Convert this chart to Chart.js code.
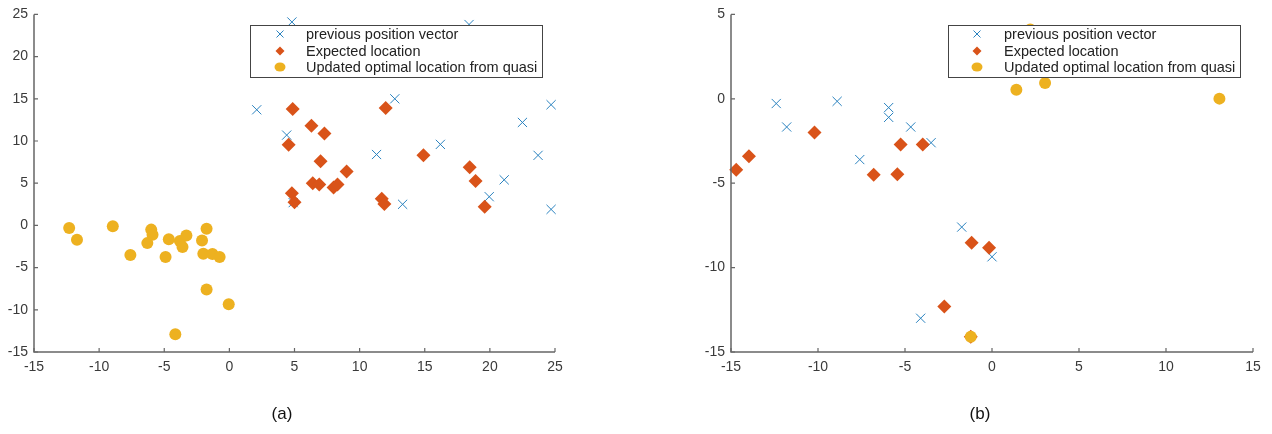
<!DOCTYPE html>
<html>
<head>
<meta charset="utf-8">
<script src="https://cdn.jsdelivr.net/npm/chart.js@4/dist/chart.umd.min.js"></script>
<style>
body{margin:0;background:#fff;width:1272px;height:434px;position:relative;overflow:hidden;font-family:"Liberation Sans",Arial,sans-serif}
canvas{position:absolute;top:0}
#chartA{left:0}
#chartB{left:640px}
.cap{position:absolute;top:404px;width:60px;text-align:center;font-size:17px;line-height:20px;color:#111}
</style>
</head>
<body>
<canvas id="chartA" width="600" height="434"></canvas>
<canvas id="chartB" width="632" height="434"></canvas>
<div class="cap" style="left:252px">(a)</div>
<div class="cap" style="left:950px">(b)</div>
<script>
// series names
var seriesNames = ['previous position vector', 'Expected location', 'Updated optimal location from quasi'];

// (a)
var prevAx = [2.1, 4.8, 4.4, 4.9, 8.8, 12.7, 11.3, 16.2, 13.3, 18.4, 22.5, 24.7, 23.7, 21.1, 19.95, 24.7];
var prevAy = [13.7, 24.1, 10.7, 2.7, 18.0, 15.0, 8.4, 9.6, 2.5, 23.8, 12.2, 14.3, 8.3, 5.4, 3.4, 1.9];
var expAx = [4.86, 6.3, 7.3, 4.55, 7.0, 9.0, 6.4, 6.9, 8.0, 8.3, 4.8, 5.0, 12.0, 14.9, 11.7, 11.9, 18.45, 18.9, 19.6];
var expAy = [13.8, 11.8, 10.9, 9.55, 7.6, 6.4, 5.0, 4.85, 4.5, 4.85, 3.8, 2.75, 13.9, 8.3, 3.15, 2.55, 6.9, 5.25, 2.2];
var updAx = [-12.3, -11.7, -8.95, -7.6, -6.0, -5.9, -6.3, -4.9, -4.65, -3.8, -3.6, -3.3, -4.15, -1.75, -2.1, -2.0, -1.3, -0.75, -1.75, -0.05];
var updAy = [-0.3, -1.7, -0.1, -3.5, -0.5, -1.1, -2.1, -3.75, -1.65, -1.85, -2.55, -1.2, -12.9, -0.4, -1.8, -3.35, -3.4, -3.75, -7.6, -9.35];

// (b)
var prevBx = [-12.4, -11.8, -8.9, -7.6, -5.94, -5.94, -4.67, -3.5, -1.74, -4.1, 0];
var prevBy = [-0.28, -1.67, -0.15, -3.6, -0.52, -1.1, -1.67, -2.6, -7.6, -13.0, -9.36];
var expBx = [-14.7, -13.97, -10.2, -6.8, -5.44, -5.25, -3.98, -1.17, -2.74, -0.17, -1.22];
var expBy = [-4.2, -3.4, -2.0, -4.5, -4.47, -2.7, -2.7, -8.53, -12.3, -8.83, -14.1];
var updBx = [-1.22, 2.2, 1.4, 3.05, 13.07];
var updBy = [-14.1, 4.1, 0.54, 0.94, 0.01];

var xTicksA = [-15, 25];
var yTicksA = [-15, 25];
var xTicksB = [-15, 15];
var yTicksB = [-15, 5];

var blue = '#2a82bf', orange = '#d95319', yellow = '#edb120';
var fontFam = '"Liberation Sans", Arial, sans-serif';

function pts(xs, ys) {
    return xs.map(function (x, i) { return {x: x, y: ys[i]}; });
}

function marker(ctx, kind, x, y, r) {
    ctx.beginPath();
    if (kind == 0) {
        ctx.strokeStyle = blue; ctx.lineWidth = 1;
        ctx.moveTo(x - r, y - r); ctx.lineTo(x + r, y + r);
        ctx.moveTo(x - r, y + r); ctx.lineTo(x + r, y - r);
        ctx.stroke();
    } else if (kind == 1) {
        ctx.fillStyle = orange;
        ctx.moveTo(x, y - r); ctx.lineTo(x + r, y); ctx.lineTo(x, y + r); ctx.lineTo(x - r, y);
        ctx.closePath(); ctx.fill();
    } else {
        ctx.fillStyle = yellow;
        ctx.ellipse(x, y, r + 1, r, 0, 0, Math.PI * 2);
        ctx.fill();
    }
}

// matlab style axes: left + bottom line, ticks pointing inward, boxed legend
var matlabLook = {
    id: 'matlabLook',
    afterDatasetsDraw: function (chart, args, opts) {
        var ctx = chart.ctx, a = chart.chartArea;
        var xs = chart.scales.x, ys = chart.scales.y;
        ctx.save();
        ctx.strokeStyle = '#666';
        ctx.lineWidth = 1.5;
        ctx.beginPath();
        ctx.moveTo(a.left, a.top);
        ctx.lineTo(a.left, a.bottom);
        ctx.lineTo(a.right, a.bottom);
        ctx.stroke();
        ctx.lineWidth = 1.2;
        ctx.beginPath();
        xs.ticks.forEach(function (t) {
            var px = xs.getPixelForValue(t.value);
            ctx.moveTo(px, a.bottom); ctx.lineTo(px, a.bottom - 4);
        });
        ys.ticks.forEach(function (t) {
            var py = ys.getPixelForValue(t.value);
            ctx.moveTo(a.left, py); ctx.lineTo(a.left + 4, py);
        });
        ctx.stroke();

        // legend
        var b = opts.box;
        ctx.fillStyle = '#fff';
        ctx.fillRect(b[0], b[1], b[2], b[3]);
        ctx.strokeStyle = '#444';
        ctx.lineWidth = 1;
        ctx.strokeRect(b[0] + 0.5, b[1] + 0.5, b[2], b[3]);
        ctx.font = '14.5px ' + fontFam;
        ctx.textBaseline = 'middle';
        ctx.textAlign = 'left';
        var rows = [b[1] + 9, b[1] + 26, b[1] + 42];
        seriesNames.forEach(function (name, i) {
            marker(ctx, i, opts.markerX, rows[i], i == 0 ? 3.5 : 4.5);
            ctx.fillStyle = '#222';
            ctx.fillText(name, opts.textX, rows[i] + 1);
        });
        ctx.restore();
    }
};

function makeChart(id, prev, exp, upd, xr, yr, axisLeft, rightPad, legend) {
    var tickFont = {family: fontFam, size: 14};
    return new Chart(document.getElementById(id).getContext('2d'), {
        type: 'scatter',
        data: {
            datasets: [
                {label: seriesNames[0], data: prev, pointStyle: 'crossRot', pointRadius: 6.5,
                 borderColor: blue, backgroundColor: blue, pointBorderWidth: 1, order: 3, clip: false},
                {label: seriesNames[1], data: exp, pointStyle: 'rectRot', pointRadius: 7,
                 borderColor: orange, backgroundColor: orange, pointBorderWidth: 0, order: 2, clip: false},
                {label: seriesNames[2], data: upd, pointStyle: 'circle', pointRadius: 6,
                 borderColor: yellow, backgroundColor: yellow, pointBorderWidth: 0, order: 1, clip: false}
            ]
        },
        options: {
            responsive: false,
            animation: false,
            events: [],
            layout: {padding: {left: 0, top: 14, right: rightPad, bottom: 0}},
            scales: {
                x: {
                    type: 'linear', min: xr[0], max: xr[1],
                    ticks: {stepSize: 5, font: tickFont, color: '#3a3a3a', padding: 7, maxRotation: 0},
                    grid: {display: false, drawTicks: false},
                    border: {display: false},
                    afterFit: function (s) { s.height = 82; }
                },
                y: {
                    type: 'linear', min: yr[0], max: yr[1],
                    ticks: {stepSize: 5, font: tickFont, color: '#3a3a3a', padding: 6},
                    grid: {display: false, drawTicks: false},
                    border: {display: false},
                    afterFit: function (s) { s.width = axisLeft; }
                }
            },
            plugins: {
                legend: {display: false},
                tooltip: {enabled: false},
                matlabLook: legend
            }
        },
        plugins: [matlabLook]
    });
}

makeChart('chartA', pts(prevAx, prevAy), pts(expAx, expAy), pts(updAx, updAy),
    xTicksA, yTicksA, 34, 45, {box: [250, 25, 292, 52], markerX: 280, textX: 306});
makeChart('chartB', pts(prevBx, prevBy), pts(expBx, expBy), pts(updBx, updBy),
    xTicksB, yTicksB, 91, 19, {box: [308, 25, 292, 52], markerX: 337, textX: 364});
</script>
</body>
</html>
